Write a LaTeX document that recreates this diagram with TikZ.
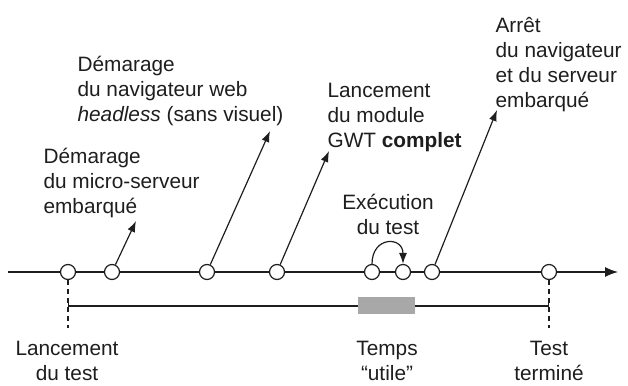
\documentclass[tikz,border=0pt]{standalone}
\usepackage{fontspec}
\setmainfont{Liberation Sans}
\usetikzlibrary{arrows.meta}
\definecolor{ink}{HTML}{1E1E1E}
\definecolor{slab}{HTML}{A8A8A8}
\begin{document}
\begin{tikzpicture}[x=1pt,y=-1pt,
  line width=1.2pt, draw=ink,
  txt/.style={font=\fontsize{20.8}{25}\selectfont, text=ink, inner sep=0pt},
  lblock/.style={txt, align=left, anchor=north west},
  cblock/.style={txt, align=center, anchor=north},
  event/.style={circle, draw=ink, fill=white, line width=1.2pt,
                minimum size=15pt, inner sep=0pt},
  pointer/.style={draw=ink, line width=1.2pt, -{Latex[length=11pt,width=8pt]}},
  guide/.style={draw=ink, line width=1.2pt, dash pattern=on 5pt off 4pt},
]
\useasboundingbox (0,0) rectangle (628,385);

% time axis
\coordinate (axisstart) at (8,272);
\coordinate (axisend) at (618,272);
\draw[draw=ink, line width=1.2pt, -{Latex[length=13pt,width=10pt]}] (axisstart) -- (axisend);

% test span with the useful part
\coordinate (spanL) at (68,306);
\coordinate (spanR) at (549,306);
\draw[draw=ink, line width=1.2pt, {Bar[width=6pt]}-{Bar[width=6pt]}] (spanL) -- (spanR);
\node[fill=slab, draw=none, minimum width=57pt, minimum height=17pt, inner sep=0pt]
  (useful) at (386.5,305.5) {};

% events on the axis
\node[event] (e1) at (68,272) {};
\node[event] (e2) at (112,272) {};
\node[event] (e3) at (207,272) {};
\node[event] (e4) at (277,272) {};
\node[event] (e5) at (372,272) {};
\node[event] (e6) at (403,272) {};
\node[event] (e7) at (432,272) {};
\node[event] (e8) at (549,272) {};

% dashed guides down to the bottom labels
\coordinate (g1) at (68,328);
\coordinate (g8) at (549,328);
\draw[guide] (e1) -- (g1);
\draw[guide] (e8) -- (g8);

% upper labels
\node[lblock] (serveur) at (43,145.5)
  {\strut Démarage\\du micro-serveur\\embarqué};
\node[lblock] (navig) at (77,53.5)
  {\strut Démarage\\du navigateur web\\\textit{headless} (sans visuel)};
\node[lblock] (module) at (327,79.5)
  {\strut Lancement\\du module\\GWT \textbf{complet}};
\node[lblock] (arret) at (495,14.5)
  {\strut Arrêt\\du navigateur\\et du serveur\\embarqué};
\node[cblock] (exec) at (388,191.5)
  {\strut Exécution\\du test};

% lower labels
\node[cblock] (debut) at (67,337.5) {\strut Lancement\\du test};
\node[cblock] (utile) at (387,337.5) {\strut Temps\\“utile”};
\node[cblock] (fin) at (549,337.5) {\strut Test\\terminé};

% pointers from events to their labels
\coordinate (t2) at (136,221);
\coordinate (t3) at (270,131);
\coordinate (t4) at (329,151);
\coordinate (t7) at (497,110);
\draw[pointer] (e2) -- (t2);
\draw[pointer] (e3) -- (t3);
\draw[pointer] (e4) -- (t4);
\draw[pointer] (e7) -- (t7);

% test execution loop
\draw[pointer] (e5.north) .. controls (372,236) and (403,236) .. (e6.north);
\end{tikzpicture}
\end{document}
